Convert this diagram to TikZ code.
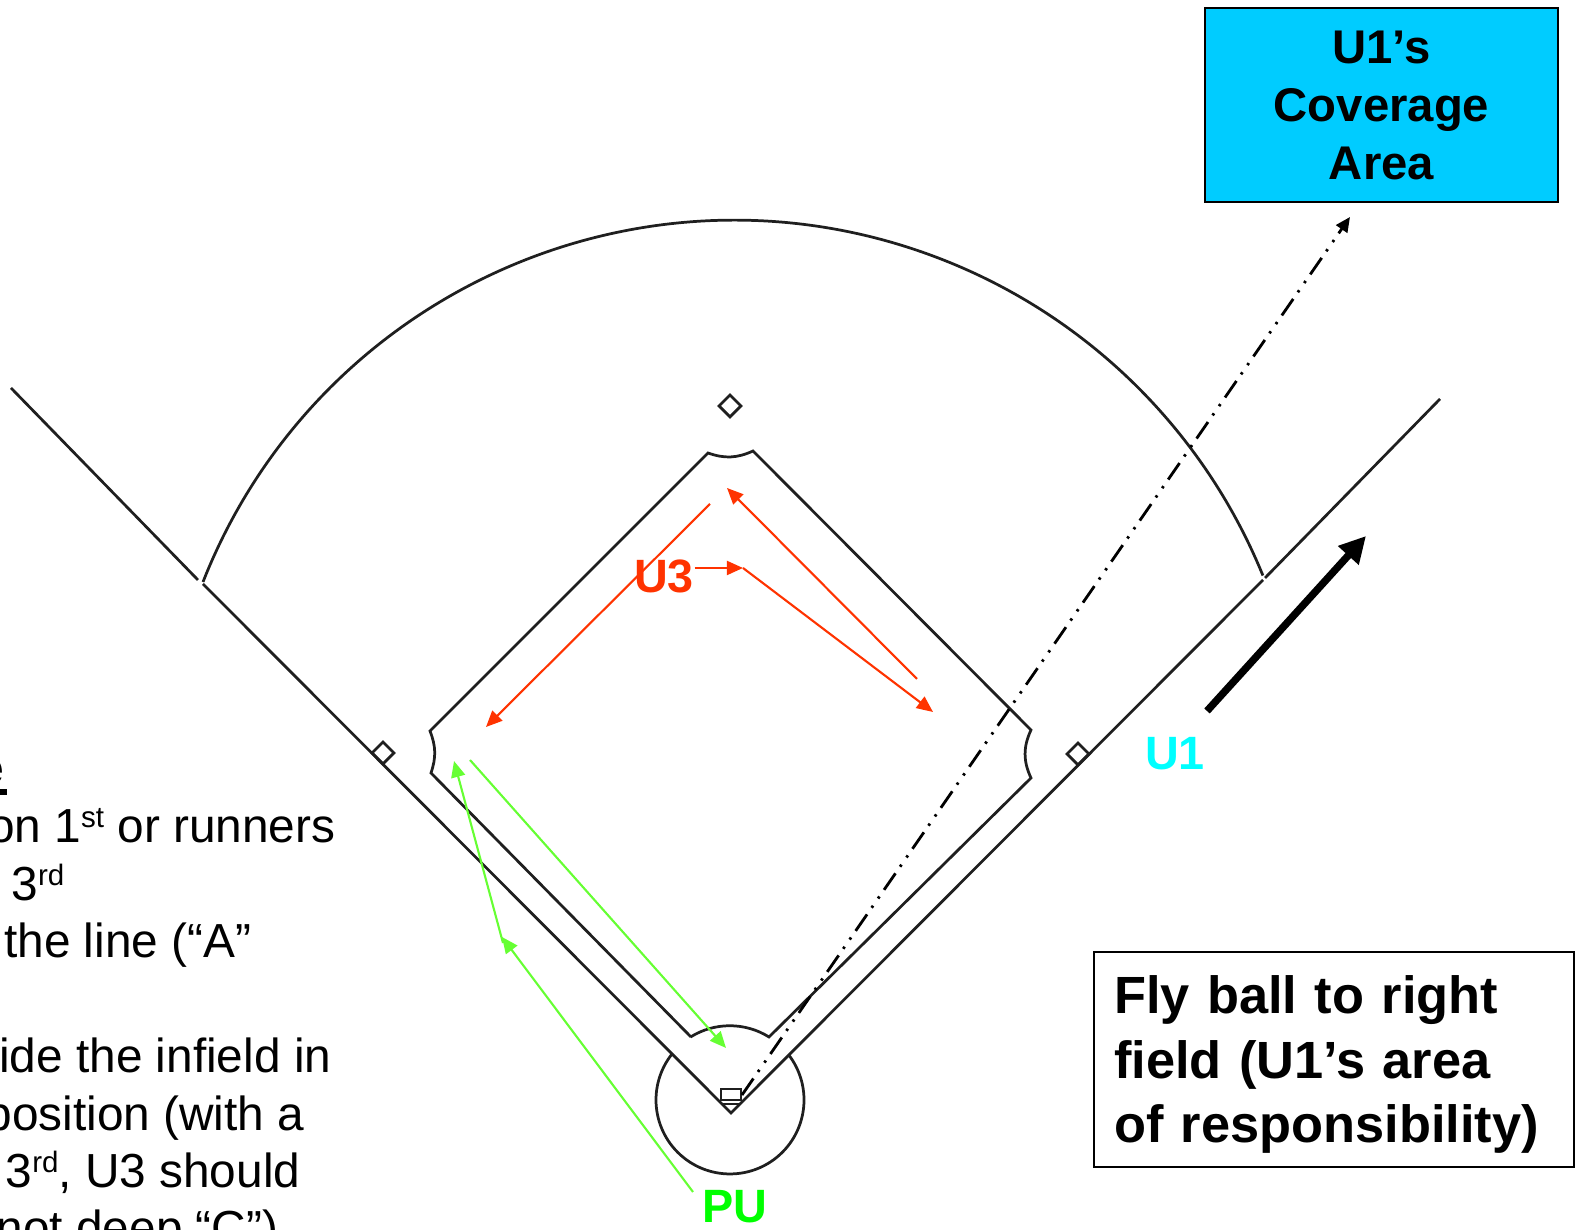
\documentclass[tikz,border=0pt]{standalone}
\usepackage{fontspec}
\setmainfont{Liberation Sans}
\usetikzlibrary{arrows.meta,shapes.geometric}
\definecolor{umpred}{HTML}{FF3300}
\definecolor{umpgreen}{HTML}{66FF33}
\definecolor{boxblue}{HTML}{00CCFF}
\definecolor{umpcyan}{HTML}{00FFFF}
\newcommand{\ordsup}[1]{\raisebox{4.4pt}{\fontsize{8.4}{10}\selectfont #1}}
\tikzset{
   fieldline/.style={line width=0.78pt,black!88},
   basebag/.style={diamond,draw,line width=0.78pt,black!88,minimum size=0.23cm,inner sep=0pt},
   redpath/.style={-{Triangle[length=4.6pt,width=4pt]},line width=0.6pt,umpred},
   greenpath/.style={-{Triangle[length=4.6pt,width=4pt]},line width=0.6pt,umpgreen},
   noteline/.style={anchor=base east,inner sep=0pt,font=\fontsize{13.6}{17}\selectfont},
   umplabel/.style={inner sep=0pt,font=\fontsize{13.3}{16}\selectfont\bfseries},
}
\begin{document}
\begin{tikzpicture}
      \useasboundingbox (0,0) rectangle (15.75,12.30);
      \draw[fieldline] (0.11,8.42) -- (1.98,6.50);
      \draw[fieldline] (2.03,6.46) -- (7.31,1.17) -- (12.63,6.50);
      \draw[fieldline] (12.65,6.52) -- (14.40,8.31);
      \draw[fieldline] (2.03,6.48) arc [start angle=158.5,end angle=22.2,radius=5.71];
      \draw[fieldline] (6.91,1.93) -- (4.31,4.57) to[bend right=20] (4.30,4.99) -- (7.08,7.77)
         to[bend right=22] (7.53,7.79) -- (10.31,5.00) to[bend right=25] (10.31,4.52) -- (7.69,1.93)
         arc [start angle=58,end angle=122,radius=0.74];
      \draw[fieldline] (6.725,1.766) arc [start angle=141,end angle=397,radius=0.74];
      \draw[fieldline] (7.21,1.30) rectangle (7.41,1.41);
      \draw[fieldline] (7.22,1.26) -- (7.40,1.26);
      \node[basebag] (secondbag) at (7.30,8.24) {};
      \node[basebag] (thirdbag) at (3.83,4.77) {};
      \node[basebag] (firstbag) at (10.78,4.76) {};

      \node[umplabel,umpred] (uthree) at (6.64,6.54) {U3};
      \node[umplabel,umpcyan] (uone) at (11.75,4.76) {U1};
      \node[umplabel,green] (pu) at (7.35,0.23) {PU};

      \coordinate (redturn) at (7.43,6.62);
      \draw[redpath] (9.17,5.51) -- (7.27,7.42);
      \draw[redpath] (7.10,7.26) -- (4.86,5.03);
      \draw[redpath] (uthree.east |- redturn) -- (redturn);
      \draw[redpath] (redturn) -- (9.33,5.18);

      \coordinate (greenturn) at (5.02,2.93);
      \draw[greenpath] (6.93,0.38) -- (greenturn);
      \draw[greenpath] (5.03,2.87) -- (4.54,4.69);
      \draw[greenpath] (4.70,4.70) -- (7.26,1.82);

      \node[draw=black,line width=0.8pt,fill=boxblue,minimum width=3.53cm,minimum height=1.94cm,
         align=center,inner sep=0pt,font=\fontsize{13.45}{16.5}\selectfont\bfseries] (coverage) at (13.815,11.25)
         {U1’s\\Coverage\\Area};
      \coordinate (platecorner) at (7.42,1.35);
      \draw[-{Triangle[length=4.2pt,width=3.8pt]},line width=0.8pt,dash pattern=on 5.7pt off 2.3pt on 0.7pt off 2.5pt on 0.7pt off 2.3pt]
         (platecorner) -- (13.50,10.13);
      \coordinate (flystart) at (12.07,5.19);
      \draw[-{Triangle[length=7.5pt,width=7.5pt]},line width=2.1pt] (flystart) -- (13.66,6.94);

      \node[draw=black,line width=0.8pt,fill=white,text width=4.40cm,minimum height=2.15cm,inner xsep=0.20cm,inner ysep=0pt,
         align=left,font=\fontsize{14.9}{18.3}\selectfont\bfseries] (flybox) at (13.34,1.705)
         {\rule{0pt}{13.7pt}Fly ball to right\\field (U1’s area\\of responsibility)};

      \node[noteline,font=\fontsize{13.6}{17}\selectfont\bfseries] (noteE) at (0.045,4.45) {e};
      \draw[line width=1.6pt] (noteE.base west |- 0,4.38) -- (0.07,4.38);
      \node[noteline] (noteB) at (3.36,3.87) {on 1\ordsup{st} or runners};
      \node[noteline] (noteC) at (0.65,3.29) {3\ordsup{rd}};
      \node[noteline] (noteD) at (2.52,2.72) {the line (“A”};
      \node[noteline] (noteF) at (3.32,1.57) {ide the infield in};
      \node[noteline] (noteG) at (3.05,0.99) {position (with a};
      \node[noteline] (noteH) at (3.01,0.42) {3\ordsup{rd}, U3 should};
      \node[noteline] (noteI) at (2.79,-0.15) {not deep “C”)};
   \end{tikzpicture}
\end{document}
